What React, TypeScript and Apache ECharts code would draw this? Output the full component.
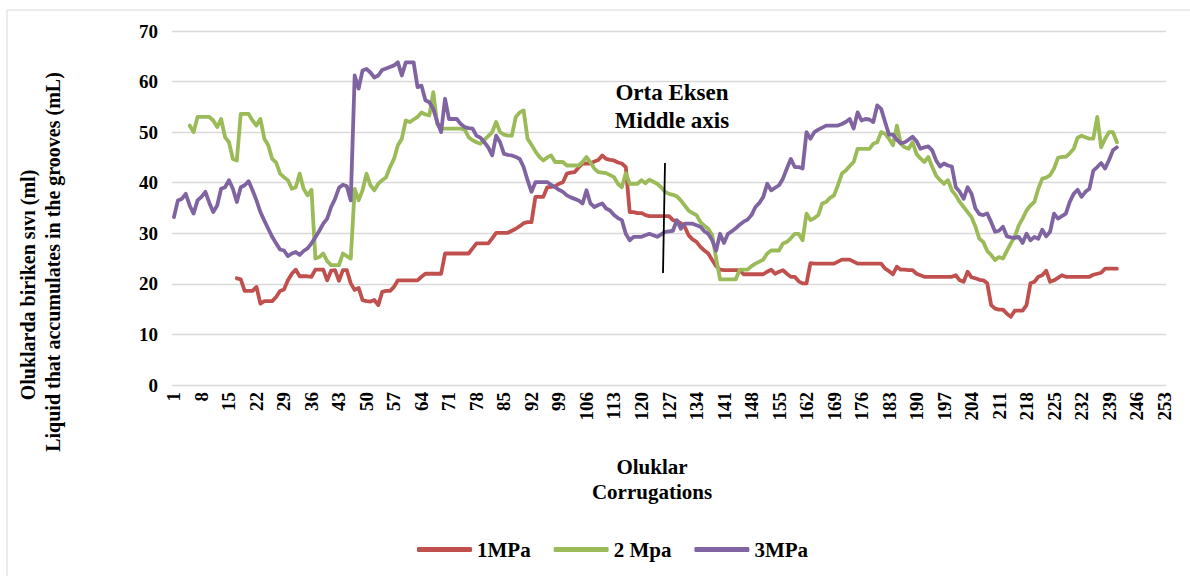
import React, { useEffect, useRef } from "react";
import * as echarts from "echarts";

const categories: string[] = Array.from({ length: 253 }, (_, i) => String(i + 1));

// 1 MPa, categories 17..241
const red1Start = 17;
const red1 = [
  21.1, 20.9, 18.6, 18.6, 18.6, 19.4, 16.1, 16.6, 16.6, 16.6,
  17.4, 18.6, 18.9, 20.7, 22, 22.8, 21.5, 21.5, 21.5, 21.4,
  22.8, 22.8, 22.8, 20.7, 22.6, 22.7, 20.6, 22.7, 22.7, 20.1,
  18.8, 19.2, 16.8, 16.6, 16.5, 16.8, 15.8, 18.4, 18.6, 18.6,
  19.4, 20.7, 20.7, 20.7, 20.7, 20.7, 20.7, 21.4, 22, 22,
  22, 22, 22, 26, 26, 26, 26, 26, 26, 26,
  27, 28, 28, 28, 28, 29, 30.1, 30.1, 30.1, 30.1,
  30.5, 30.9, 31.4, 32, 32.2, 32.2, 37.2, 37.2, 37.2, 39.1,
  39.2, 39.3, 39.8, 40.1, 41.8, 42, 42.1, 43, 43.8, 43.8,
  43.8, 44.2, 44.5, 45.4, 44.7, 44.5, 44.4, 44, 43.8, 43.1,
  34.2, 34.2, 34, 34, 33.6, 33.4, 33.4, 33.4, 33.4, 33.4,
  33.4, 32.6, 32.4, 32, 31.3, 29.6, 28.8, 28.3, 27.3, 26.6,
  26, 24.7, 23.5, 22.8, 22.7, 22.7, 22.7, 22.7, 22.7, 21.9,
  21.9, 21.9, 21.9, 21.9, 21.9, 22.4, 22.8, 22, 22.4, 22.7,
  22, 21.4, 21.4, 20.5, 20.1, 20.1, 24.1, 24, 24, 24,
  24, 24, 24, 24.4, 24.8, 24.8, 24.8, 24.4, 24, 24,
  24, 24, 24, 24, 24, 23, 22.5, 21.9, 23.4, 22.8,
  22.8, 22.7, 22.7, 22, 21.7, 21.4, 21.4, 21.4, 21.4, 21.4,
  21.4, 21.4, 21.4, 21.7, 20.7, 20.4, 22.4, 21.3, 21.1, 20.8,
  20.7, 20.1, 15.8, 15.1, 14.9, 14.9, 14.1, 13.5, 14.7, 14.7,
  14.7, 15.8, 20.1, 20.4, 21.4, 21.7, 22.6, 20.4, 20.7, 21.2,
  21.7, 21.4, 21.4, 21.4, 21.4, 21.4, 21.4, 21.4, 21.8, 22,
  22.2, 23, 23, 23, 23,
];

// 2 Mpa, categories 5..241
const green2Start = 5;
const green2 = [
  51.3, 50, 53, 53, 53, 53, 52.3, 51, 52.6, 49,
  48, 44.7, 44.4, 53.6, 53.6, 53.6, 52.3, 51.3, 52.6, 48.7,
  47.4, 44.7, 44, 41.8, 41.1, 40.5, 38.8, 39.1, 41.8, 38.8,
  37.5, 38.6, 25, 25.3, 26, 24.5, 23.7, 23.7, 23.7, 26,
  25.5, 25, 38.8, 36.5, 38.5, 41.8, 39.5, 38.5, 39.8, 40.5,
  41.1, 43.1, 44.7, 47.4, 48.7, 52.3, 52, 52.5, 53, 53.9,
  53.5, 53.3, 57.9, 51.6, 50.7, 50.7, 50.7, 50.7, 50.7, 50.7,
  50.5, 49, 48.4, 48, 47.7, 48.5, 49.2, 50, 52, 50,
  49.5, 49.3, 49.3, 53, 53.9, 54.3, 48.7, 47.5, 46.2, 45.1,
  44.4, 45, 45.4, 44.1, 44.1, 44.1, 43.4, 43.4, 43.4, 43.4,
  44.1, 45.1, 44, 42.8, 42.1, 42, 41.9, 41.5, 41.1, 39.8,
  39.1, 41.9, 39.8, 39.8, 39.8, 40.5, 39.9, 40.6, 40.2, 39.8,
  39.1, 38.2, 37.8, 37.6, 37.3, 36.5, 35.5, 34.5, 34, 33.6,
  32.2, 31.5, 30.9, 29.6, 25, 20.9, 20.9, 20.9, 20.9, 20.9,
  22.8, 22.8, 22.8, 23.5, 24, 24.4, 24.8, 26, 26.6, 26.6,
  26.6, 28, 28.3, 29, 29.9, 29.9, 28.6, 33.9, 32.6, 33,
  33.6, 35.9, 36.2, 37, 37.5, 39.5, 41.8, 42.4, 43.3, 44.1,
  46.7, 46.7, 46.7, 46.7, 47.7, 48, 50, 49.7, 48.7, 47.4,
  51.3, 47.7, 47, 46.7, 48, 45.7, 44.8, 44.1, 45.1, 43.1,
  41.4, 40.5, 39.8, 40.5, 38.5, 37.5, 36.2, 35.2, 34.2, 33.2,
  31.3, 28.9, 28.3, 26.5, 25.7, 24.7, 25.3, 25, 26.5, 28,
  29.3, 31.5, 32.9, 34.5, 35.5, 36.2, 38.8, 40.8, 41, 41.5,
  42.8, 44.9, 45.1, 45.1, 45.8, 46.7, 48.9, 49.3, 49, 48.7,
  48.7, 53, 47, 48.7, 50, 50, 48,
];

// 3MPa, categories 1..241
const purple3Start = 1;
const purple3 = [
  33.2, 36.5, 36.8, 37.8, 35.5, 33.9, 36.5, 37.2, 38.2, 36,
  34.2, 35.5, 38.8, 39.1, 40.5, 38.8, 36.2, 39.1, 39.5, 40.3,
  38.5, 36.5, 34.2, 32.5, 30.9, 29.3, 28, 26.8, 26.6, 25.5,
  26, 26.3, 25.7, 26.5, 27, 28, 29.2, 30.5, 31.9, 32.9,
  35.2, 36.8, 39, 39.6, 39.3, 36.5, 61.2, 58.6, 62.2, 62.5,
  61.8, 60.8, 61.2, 62.3, 62.6, 62.9, 63.2, 63.8, 61.2, 63.8,
  63.8, 63.8, 58.9, 59.2, 56.3, 55.9, 54.6, 52, 50, 56.6,
  52.6, 52.6, 52.6, 51.6, 51, 50.8, 50.7, 49.3, 48.9, 48,
  47, 45.4, 49.3, 48, 45.7, 45.5, 45.4, 45.1, 44.7, 43.1,
  40.5, 38.2, 40.1, 40.1, 40.1, 40.1, 39.6, 39.1, 38.6, 38.2,
  37.5, 37.1, 36.8, 36.5, 35.9, 38.5, 35.9, 35.2, 35.6, 35.9,
  34.9, 34.5, 33.6, 33, 32.6, 29.9, 28.6, 29.3, 29.3, 29.3,
  29.6, 29.9, 29.6, 29.3, 29.8, 30.3, 30.4, 30.5, 32.6, 30.9,
  31.9, 31.9, 31.9, 31.6, 31.3, 30.4, 29.9, 28.6, 26.6, 29.9,
  28.1, 29.9, 30.4, 31, 31.7, 32.3, 32.7, 33.6, 35.2, 36,
  37.2, 39.8, 38.5, 39, 39.5, 40.8, 42.8, 44.7, 43.1, 43.1,
  42.8, 50, 48.7, 50, 50.5, 50.9, 51.3, 51.3, 51.3, 51.3,
  51.6, 52, 52.6, 50.7, 53.9, 52.3, 52.6, 52.5, 52, 55.3,
  54.6, 52, 49.5, 49.5, 48.5, 47.8, 48, 48.5, 49.1, 48.2,
  46.7, 47, 47.2, 46.4, 44.4, 43.2, 43.8, 43.4, 43.2, 39.1,
  38.2, 36.8, 39.1, 37.8, 34.9, 33.8, 33.6, 33.9, 32.2, 30.3,
  30.5, 31.3, 29.4, 29.2, 29.1, 29.3, 28.1, 29.9, 28.6, 29.3,
  28.9, 30.7, 29.4, 30.3, 33.9, 32.9, 33.4, 33.9, 36.2, 37.8,
  38.6, 37.2, 38.2, 38.8, 42.4, 43.1, 43.9, 42.8, 44.5, 46.4,
  47,
];

const seriesNames = ["1MPa", "2 Mpa", "3MPa"];
const seriesColors = ["#C0504D", "#9BBB59", "#8064A2"];
const yTicks = { min: 0, max: 70, interval: 10 };

function align(start: number, values: number[]): (number | null)[] {
  return categories.map((_, i) => {
    const k = i + 1 - start;
    return k >= 0 && k < values.length ? values[k] : null;
  });
}

const FONT = "Liberation Serif";

function label(text: string, x: number, y: number, size: number, rotation = 0) {
  return {
    type: "text",
    x,
    y,
    rotation,
    silent: true,
    style: {
      text,
      fontFamily: FONT,
      fontWeight: "bold",
      fontSize: size,
      fill: "#000",
      align: "center",
      verticalAlign: "middle",
    },
  };
}

export default function App() {
  const ref = useRef<HTMLDivElement>(null);
  useEffect(() => {
    if (!ref.current) return;
    const chart = echarts.init(ref.current, null, { renderer: "svg" });
    const data = [align(red1Start, red1), align(green2Start, green2), align(purple3Start, purple3)];
    chart.setOption({
      animation: false,
      backgroundColor: "#ffffff",
      textStyle: { fontFamily: FONT },
      grid: { left: 172, right: 24, top: 31, bottom: 191, containLabel: false },
      legend: {
        data: seriesNames,
        left: 412,
        top: 534,
        icon: "roundRect",
        itemWidth: 55,
        itemHeight: 5,
        itemGap: 23,
        textStyle: { fontFamily: FONT, fontWeight: "bold", fontSize: 21, color: "#000" },
      },
      xAxis: {
        type: "category",
        data: categories,
        boundaryGap: true,
        axisLine: { show: false },
        axisTick: { show: false },
        axisLabel: {
          interval: 6,
          rotate: 90,
          margin: 7,
          fontFamily: FONT,
          fontWeight: "bold",
          fontSize: 19,
          color: "#000",
        },
        splitLine: { show: false },
      },
      yAxis: {
        type: "value",
        min: yTicks.min,
        max: yTicks.max,
        interval: yTicks.interval,
        axisLine: { show: false },
        axisTick: { show: false },
        axisLabel: { margin: 14, fontFamily: FONT, fontWeight: "bold", fontSize: 19, color: "#000" },
        splitLine: { lineStyle: { color: "#D9D9D9", width: 1.3 } },
      },
      series: seriesNames.map((name, i) => ({
        name,
        type: "line",
        data: data[i],
        showSymbol: false,
        symbol: "none",
        smooth: false,
        connectNulls: false,
        color: seriesColors[i],
        lineStyle: { color: seriesColors[i], width: 3.8, cap: "round", join: "round" },
      })),
      graphic: [
        {
          type: "rect",
          shape: { x: 7, y: 10, width: 1200, height: 600 },
          style: { fill: "none", stroke: "#D9D9D9", lineWidth: 1 },
          silent: true,
          z: -1,
        },
        label("Oluklarda biriken sıvı (ml)", 28, 285, 20, Math.PI / 2),
        label("Liquid that accumulates in the grooves (mL)", 53, 262, 20, Math.PI / 2),
        label("Oluklar", 652, 467, 21),
        label("Corrugations", 652, 492, 21),
        label("Orta Eksen", 672, 92, 23),
        label("Middle axis", 672, 120, 23),
        {
          type: "line",
          shape: { x1: 665, y1: 163, x2: 663, y2: 273 },
          style: { stroke: "#000", lineWidth: 1.8 },
          z: 10,
        },
      ],
    });
    return () => chart.dispose();
  }, []);
  return (
    <div
      ref={ref}
      style={{ position: "fixed", left: 0, top: 0, width: 1190, height: 576, background: "#fff" }}
    />
  );
}
